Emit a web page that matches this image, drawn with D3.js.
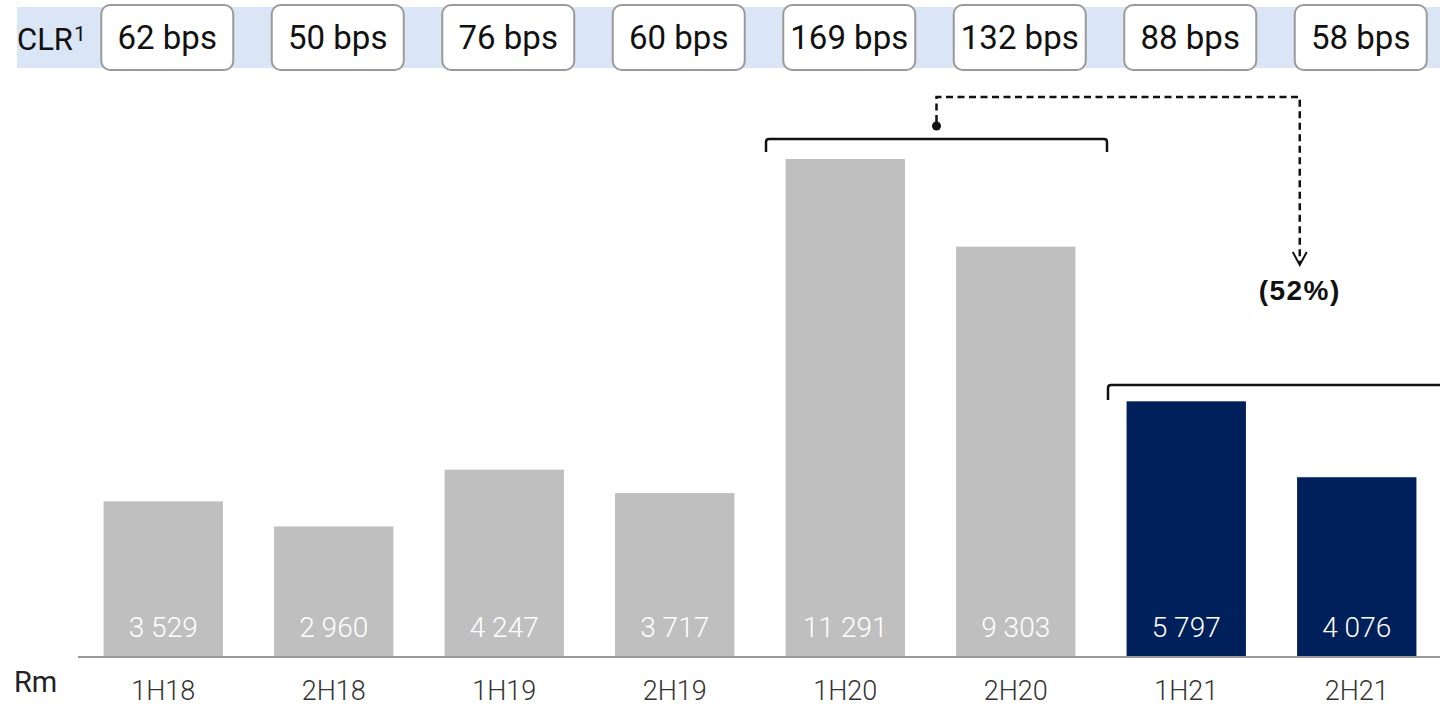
<!DOCTYPE html>
<html><head><meta charset="utf-8">
<script src="https://cdn.jsdelivr.net/npm/d3@7"></script>
<style>html,body{margin:0;padding:0;background:#fff;}svg{display:block;}</style>
</head><body>
<svg id="c" width="1440" height="706"></svg>
<script>
const categories = ["1H18","2H18","1H19","2H19","1H20","2H20","1H21","2H21"];
const values = [3529, 2960, 4247, 3717, 11291, 9303, 5797, 4076];
const valueLabels = ["3 529","2 960","4 247","3 717","11 291","9 303","5 797","4 076"];
const clrLabels = ["62 bps","50 bps","76 bps","60 bps","169 bps","132 bps","88 bps","58 bps"];
const highlight = ["1H21","2H21"];
const changeLabel = "(52%)";

const svg = d3.select("#c");
const FONT = "Roboto, 'Noto Sans', sans-serif";

const x = d3.scaleBand().domain(categories).range([78, 1442]).paddingInner(0.3).paddingOuter(0.15);
const y = d3.scaleLinear().domain([0, 11291]).range([657, 159]);

// CLR band
svg.append("rect").attr("x",17).attr("y",7).attr("width",1423).attr("height",61).attr("fill","#dae5f6");
const clr = svg.append("text").attr("x",17).attr("y",50).attr("font-family",FONT).attr("font-size",31).attr("fill","#111");
clr.append("tspan").text("CLR");
clr.append("tspan").attr("font-size",21).attr("dy",-9).attr("dx",1).text("1");

const boxes = svg.selectAll("g.box").data(categories).join("g").attr("class","box")
  .attr("transform", d => `translate(${x(d)+x.bandwidth()/2+4},37)`);
boxes.append("rect").attr("x",-66).attr("y",-32).attr("width",132).attr("height",65).attr("rx",9)
  .attr("fill","#fff").attr("stroke","#9a9a9a").attr("stroke-width",2);
boxes.append("text").attr("text-anchor","middle").attr("y",12).attr("font-family",FONT)
  .attr("font-size",33).attr("fill","#111").text((d,i)=>clrLabels[i]);

// bars
svg.selectAll("rect.bar").data(categories).join("rect").attr("class","bar")
  .attr("x", d=>x(d)).attr("width", x.bandwidth())
  .attr("y", (d,i)=>y(values[i])).attr("height",(d,i)=>y(0)-y(values[i]))
  .attr("fill", d=>highlight.includes(d) ? "#00205b" : "#bfbfbf");

svg.selectAll("text.val").data(categories).join("text").attr("class","val")
  .attr("x", d=>x(d)+x.bandwidth()/2).attr("y", 637).attr("text-anchor","middle")
  .attr("font-family",FONT).attr("font-weight",300).attr("font-size",28).attr("fill","#fff")
  .text((d,i)=>valueLabels[i]);

// axis
const ax = svg.append("g").attr("transform",`translate(0,${y(0)})`)
  .call(d3.axisBottom(x).tickSize(0).tickPadding(0));
ax.select(".domain").attr("stroke","#9a9a9a").attr("stroke-width",2).attr("d","M0,0H1440").attr("transform","translate(78,0)");
ax.selectAll(".tick text").attr("font-family",FONT).attr("font-weight",300).attr("font-size",27)
  .attr("fill","#333").attr("dy",0).attr("y",43);

svg.append("text").attr("x",14).attr("y",692).attr("font-family",FONT).attr("font-size",29).attr("fill","#222").text("Rm");

// brackets
function bracket(x0, x1, yy, h){
  const r=3;
  return `M${x0},${yy+h}V${yy+r}Q${x0},${yy} ${x0+r},${yy}H${x1-r}Q${x1},${yy} ${x1},${yy+r}V${yy+h}`;
}
const b1x0 = x("1H20") - x.step()*0.15 + 6, b1x1 = x("2H20") + x.bandwidth() + x.step()*0.15 + 6;
svg.append("path").attr("d", bracket(b1x0, b1x1, 139, 13)).attr("fill","none").attr("stroke","#111").attr("stroke-width",2.5);
const b2x0 = x("1H21") - x.step()*0.15 + 7;
svg.append("path").attr("d", bracket(b2x0, 1443, 385, 15)).attr("fill","none").attr("stroke","#111").attr("stroke-width",2.5);

// dashed arrow
const dotX = (b1x0+b1x1)/2;
const arrX = x("1H21") + x.step() + x.bandwidth()/2 - 57;
svg.append("circle").attr("cx",dotX).attr("cy",126).attr("r",4.5).attr("fill","#111");
svg.append("path").attr("d",`M${dotX},122V97H${arrX}V263`).attr("fill","none").attr("stroke","#111")
  .attr("stroke-width",2.5).attr("stroke-dasharray","7,4.5");
svg.append("path").attr("d",`M${arrX-7},252L${arrX},265L${arrX+7},252`).attr("fill","none").attr("stroke","#111").attr("stroke-width",2);
svg.append("text").attr("x",arrX).attr("y",300).attr("text-anchor","middle").attr("font-family","'Liberation Sans', Arial, sans-serif")
  .attr("font-weight","bold").attr("font-size",28).attr("letter-spacing",1.5).attr("fill","#111").text(changeLabel);
</script>
</body></html>
